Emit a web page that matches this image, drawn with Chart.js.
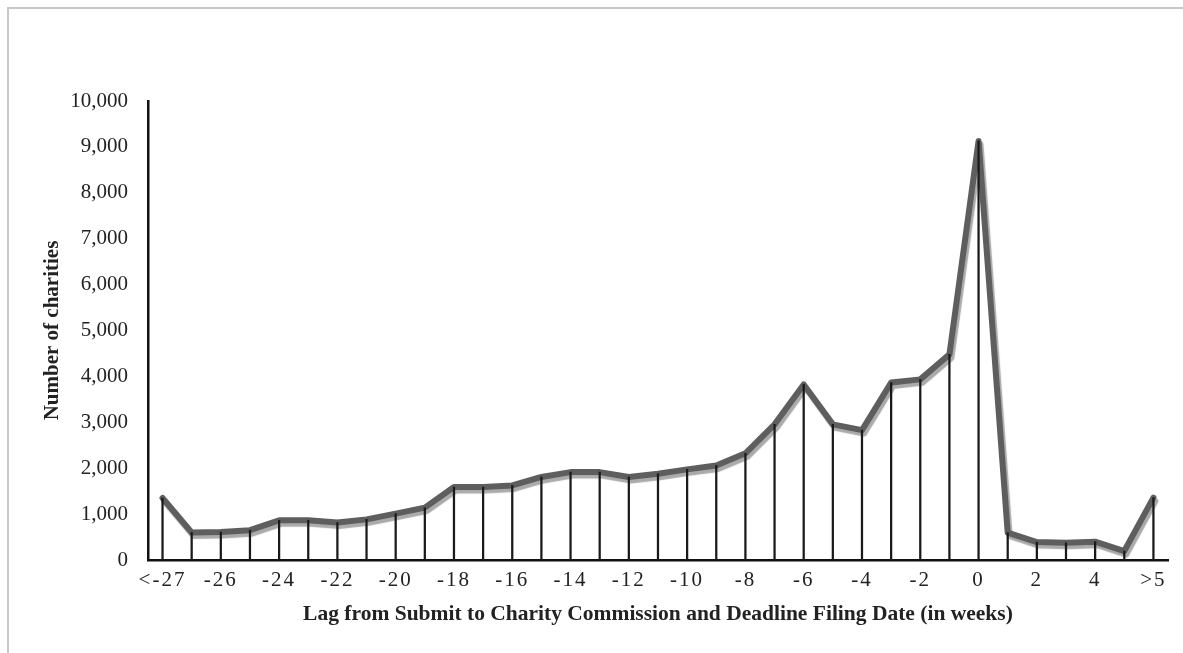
<!DOCTYPE html>
<html>
<head>
<meta charset="utf-8">
<script src="https://cdn.jsdelivr.net/npm/chart.js@4/dist/chart.umd.min.js"></script>
<style>
html,body{margin:0;padding:0;background:#fff;}
#wrap{position:relative;width:1183px;height:653px;overflow:hidden;}
#frame{position:absolute;left:7px;top:7px;width:1200px;height:700px;border-left:2px solid #c8c8c8;border-top:2px solid #c8c8c8;}
canvas{position:absolute;left:0;top:0;}
</style>
</head>
<body>
<div id="wrap">
<div id="frame"></div>
<canvas id="c" width="1183" height="653"></canvas>
</div>
<script>
const categories = ['<-27','-27','-26','-25','-24','-23','-22','-21','-20','-19','-18','-17','-16','-15','-14','-13','-12','-11','-10','-9','-8','-7','-6','-5','-4','-3','-2','-1','0','1','2','3','4','5','>5'];
const charities = [1350,600,610,650,865,865,815,885,1010,1140,1590,1590,1625,1810,1915,1915,1810,1880,1975,2060,2325,2955,3825,2955,2830,3865,3935,4480,9130,595,390,375,400,195,1360];
const yTicks = [0,1000,2000,3000,4000,5000,6000,7000,8000,9000,10000];

const shadowPlugin = {
  id: 'lineShadow',
  beforeDatasetDraw(chart, args) {
    if (args.index !== 0) return;
    const ctx = chart.ctx;
    ctx.save();
    ctx.shadowColor = 'rgba(165,165,165,0.95)';
    ctx.shadowOffsetX = 2;
    ctx.shadowOffsetY = 3.5;
    ctx.shadowBlur = 1;
  },
  afterDatasetDraw(chart, args) {
    if (args.index !== 0) return;
    chart.ctx.restore();
  }
};

const spacingPlugin = {
  id: 'xLetterSpacing',
  afterUpdate(chart) {
    const xs = chart.scales.x;
    if (!xs || xs._spacedWrap) return;
    const orig = xs.drawLabels.bind(xs);
    xs.drawLabels = function(area) {
      const ctx = chart.ctx;
      ctx.save();
      ctx.letterSpacing = '2px';
      orig(area);
      ctx.restore();
    };
    xs._spacedWrap = true;
  }
};

new Chart(document.getElementById('c'), {
  data: {
    labels: categories,
    datasets: [
      {
        type: 'line',
        data: charities,
        borderColor: '#5e5e5e',
        borderWidth: 6,
        pointRadius: 0,
        tension: 0,
        borderJoinStyle: 'round',
        borderCapStyle: 'round',
        order: 2
      },
      {
        type: 'bar',
        data: charities,
        backgroundColor: '#1a1a1a',
        barThickness: 1.6,
        borderWidth: 0,
        order: 1
      }
    ]
  },
  options: {
    responsive: false,
    animation: false,
    devicePixelRatio: 1,
    layout: { padding: { left: 40, right: 15, top: 101, bottom: 26 } },
    plugins: { legend: { display: false }, tooltip: { enabled: false } },
    scales: {
      x: {
        offset: true,
        grid: { display: false, drawTicks: false },
        border: { display: true, color: '#111', width: 2.5 },
        ticks: {
          autoSkip: false,
          maxRotation: 0,
          padding: 8,
          color: '#222',
          font: { family: 'Liberation Serif', size: 21 },
          callback: function(v, i) { return i % 2 === 0 ? categories[i] : ''; }
        },
        title: {
          display: true,
          text: 'Lag from Submit to Charity Commission and Deadline Filing Date (in weeks)',
          color: '#222',
          font: { family: 'Liberation Serif', size: 21.5, weight: 'bold' },
          padding: { top: 0, bottom: 0 }
        }
      },
      y: {
        min: 0,
        max: 10000,
        afterBuildTicks: function(scale) { scale.ticks = yTicks.map(v => ({ value: v })); },
        grid: { display: false, drawTicks: false },
        border: { display: true, color: '#111', width: 2.5 },
        ticks: {
          padding: 20,
          color: '#222',
          font: { family: 'Liberation Serif', size: 21 },
          callback: function(v) { return v.toLocaleString('en-US'); }
        },
        title: {
          display: true,
          text: 'Number of charities',
          color: '#222',
          font: { family: 'Liberation Serif', size: 21, weight: 'bold' },
          padding: { top: 0, bottom: -15 }
        }
      }
    }
  },
  plugins: [shadowPlugin, spacingPlugin]
});
</script>
</body>
</html>
